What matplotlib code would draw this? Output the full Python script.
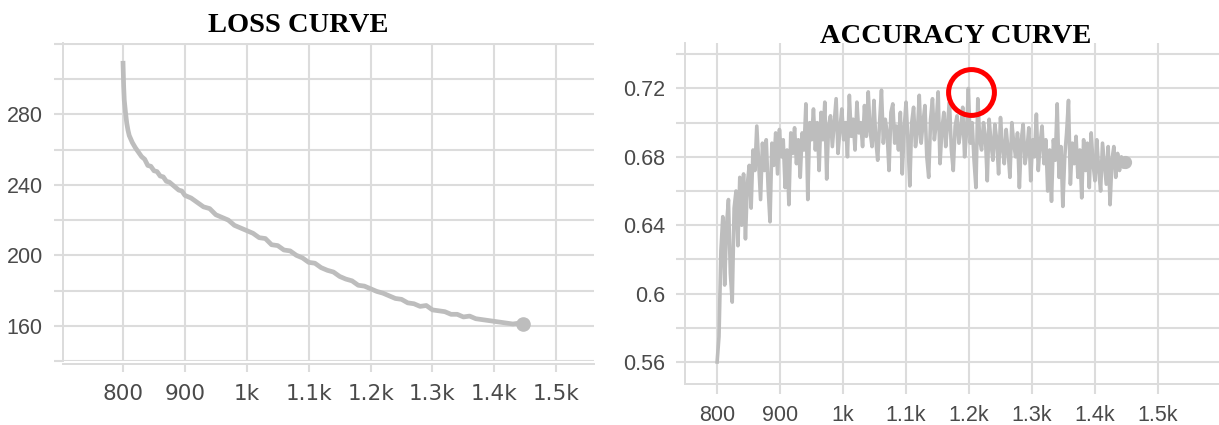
import matplotlib
matplotlib.use('Agg')
import matplotlib.pyplot as plt
from matplotlib.ticker import FixedLocator, FixedFormatter

# loss curve
loss_steps = [800, 801, 802, 804, 806, 808, 810, 815, 820, 825, 830, 835, 840, 845,
              850, 855, 860, 865, 870, 875, 880, 885, 890, 895, 900, 910, 920, 930,
              940, 950, 960, 970, 980, 990, 1000, 1010, 1020, 1030, 1040, 1050, 1060,
              1070, 1080, 1090, 1100, 1110, 1120, 1130, 1140, 1150, 1160, 1170, 1180,
              1190, 1200, 1210, 1220, 1230, 1240, 1250, 1260, 1270, 1280, 1290, 1300,
              1310, 1320, 1330, 1340, 1350, 1360, 1370, 1380, 1390, 1400, 1410, 1420,
              1430, 1440, 1447]
loss_values = [309, 296, 288, 281, 275, 271, 268, 264, 261, 258.5, 256, 254.5, 251, 250.5,
               248, 247.5, 245, 244.5, 242, 241.5, 240, 238.5, 237, 236.5, 234, 232.5, 230,
               227.5, 226.5, 223, 221.5, 220, 217, 215.5, 214, 212.5, 210, 209.5, 206,
               205.5, 203, 202.5, 200, 198.5, 196, 195.5, 193, 191.5, 190.5, 188, 186.5,
               185.5, 183, 182.5, 181, 179.5, 178.5, 177, 175.5, 175, 173, 172.5, 171, 171.5,
               169, 168.5, 168, 166.5, 166.5, 165, 165.5, 164, 163.5, 163, 162.5, 162,
               161.5, 161, 161.5, 161]

# accuracy curve, every 3 steps
acc_steps = list(range(800, 1446, 3)) + [1447]
acc_values = [
    # 800 - 860
    0.560, 0.575, 0.625, 0.645, 0.605, 0.640, 0.655, 0.612, 0.595, 0.650,
    0.660, 0.628, 0.668, 0.640, 0.670, 0.632, 0.664, 0.675, 0.650, 0.684,
    0.672,
    # 863 - 950
    0.698, 0.676, 0.655, 0.688, 0.672, 0.690, 0.662, 0.642, 0.688, 0.675,
    0.694, 0.670, 0.696, 0.680, 0.690, 0.662, 0.684, 0.652, 0.694, 0.682,
    0.697, 0.676, 0.690, 0.668, 0.694, 0.684, 0.711, 0.655, 0.700, 0.690,
    # 953 - 1100
    0.708, 0.684, 0.700, 0.672, 0.706, 0.690, 0.712, 0.667, 0.698, 0.704,
    0.686, 0.700, 0.714, 0.682, 0.696, 0.708, 0.690, 0.700, 0.680, 0.716,
    0.692, 0.702, 0.684, 0.712, 0.694, 0.700, 0.686, 0.710, 0.692, 0.718,
    0.695, 0.686, 0.713, 0.690, 0.678, 0.700, 0.719, 0.688, 0.702, 0.694,
    0.672, 0.706, 0.711, 0.688, 0.698, 0.684, 0.706, 0.670, 0.696, 0.712,
    # 1103 - 1250
    0.690, 0.663, 0.700, 0.709, 0.686, 0.694, 0.716, 0.688, 0.700, 0.710,
    0.680, 0.668, 0.702, 0.714, 0.690, 0.700, 0.718, 0.676, 0.696, 0.706,
    0.686, 0.700, 0.712, 0.684, 0.672, 0.698, 0.704, 0.688, 0.696, 0.709,
    0.680, 0.694, 0.720, 0.688, 0.700, 0.678, 0.662, 0.714, 0.690, 0.684,
    0.700, 0.692, 0.666, 0.702, 0.688, 0.678, 0.699, 0.690, 0.670, 0.703,
    # 1253 - 1445
    0.686, 0.676, 0.696, 0.684, 0.668, 0.700, 0.688, 0.680, 0.694, 0.662,
    0.690, 0.699, 0.676, 0.684, 0.697, 0.666, 0.690, 0.680, 0.705, 0.672,
    0.688, 0.698, 0.676, 0.690, 0.660, 0.684, 0.654, 0.690, 0.678, 0.711,
    0.668, 0.686, 0.651, 0.680, 0.694, 0.713, 0.664, 0.688, 0.676, 0.692,
    0.668, 0.684, 0.656, 0.690, 0.672, 0.688, 0.662, 0.694, 0.676, 0.666,
    0.690, 0.672, 0.660, 0.688, 0.676, 0.664, 0.686, 0.652, 0.678, 0.686,
    0.668, 0.682, 0.672, 0.680, 0.674,
    # 1447
    0.677]

x_ticks = [800, 900, 1000, 1100, 1200, 1300, 1400, 1500]
x_labels = ['800', '900', '1k', '1.1k', '1.2k', '1.3k', '1.4k', '1.5k']
loss_grid = [140, 160, 180, 200, 220, 240, 260, 280, 300, 320]
loss_labels = ['', '160', '', '200', '', '240', '', '280', '', '']
acc_grid = [0.56, 0.58, 0.60, 0.62, 0.64, 0.66, 0.68, 0.70, 0.72, 0.74]
acc_labels = ['0.56', '', '0.6', '', '0.64', '', '0.68', '', '0.72', '']
marked_point = (1203, 0.718)

W, H = 1219, 425
GRID = '#dcdcdc'
LINE = '#bdbdbd'
TXT = '#4a4a4a'


def style_axes(ax, yticks, ylabels, xtick_len):
    ax.set_facecolor('white')
    for s in ['top', 'right']:
        ax.spines[s].set_visible(False)
    for s in ['left', 'bottom']:
        ax.spines[s].set_color(GRID)
        ax.spines[s].set_linewidth(1.4)
    ax.xaxis.set_major_locator(FixedLocator(x_ticks))
    ax.xaxis.set_major_formatter(FixedFormatter(x_labels))
    ax.yaxis.set_major_locator(FixedLocator(yticks))
    ax.yaxis.set_major_formatter(FixedFormatter(ylabels))
    ax.grid(True, color=GRID, linewidth=1.5)
    ax.set_axisbelow(True)
    ax.tick_params(axis='y', length=6.5, width=1.5, color=GRID, pad=8,
                   labelsize=15.5, labelcolor=TXT)
    ax.tick_params(axis='x', length=xtick_len, width=1.5, color=GRID, pad=8,
                   labelsize=15.5, labelcolor=TXT)
    for lab in ax.get_xticklabels() + ax.get_yticklabels():
        lab.set_family(['Liberation Sans', 'DejaVu Sans'])


fig = plt.figure(figsize=(W / 100, H / 100), dpi=100)

ax1 = fig.add_axes([63 / W, 1 - 361 / H, (594 - 63) / W, (361 - 43) / H])
ax1.plot(loss_steps, loss_values, color=LINE, linewidth=3.4, solid_joinstyle='round')
ax1.plot(loss_steps[-1], loss_values[-1], 'o', color=LINE, markersize=9.5)
ax1.set_xlim(703, 1561)
ax1.set_ylim(140, 320.5)
style_axes(ax1, loss_grid, loss_labels, 6)
ax1.spines['bottom'].set_position(('outward', 2.2))

ax2 = fig.add_axes([685 / W, 1 - 384 / H, (1219 - 685) / W, (384 - 43) / H])
ax2.plot(acc_steps, acc_values, color=LINE, linewidth=2.6)
ax2.plot(acc_steps[-1], acc_values[-1], 'o', color=LINE, markersize=8.5)
ax2.plot(marked_point[0], marked_point[1], 'o', markersize=33, mfc='none',
         mec='#ff0000', mew=3.6, clip_on=False)
ax2.set_xlim(749, 1597)
ax2.set_ylim(0.5471, 0.7466)
style_axes(ax2, acc_grid, acc_labels, 7)

fig.text(298 / W, 1 - 32 / H, 'LOSS CURVE', ha='center', va='baseline',
         fontsize=20.5, fontweight='bold', family=['Liberation Serif', 'DejaVu Serif'])
fig.text(956 / W, 1 - 43 / H, 'ACCURACY CURVE', ha='center', va='baseline',
         fontsize=20.5, fontweight='bold', family=['Liberation Serif', 'DejaVu Serif'])

fig.savefig('out.png', dpi=100, facecolor='white')
